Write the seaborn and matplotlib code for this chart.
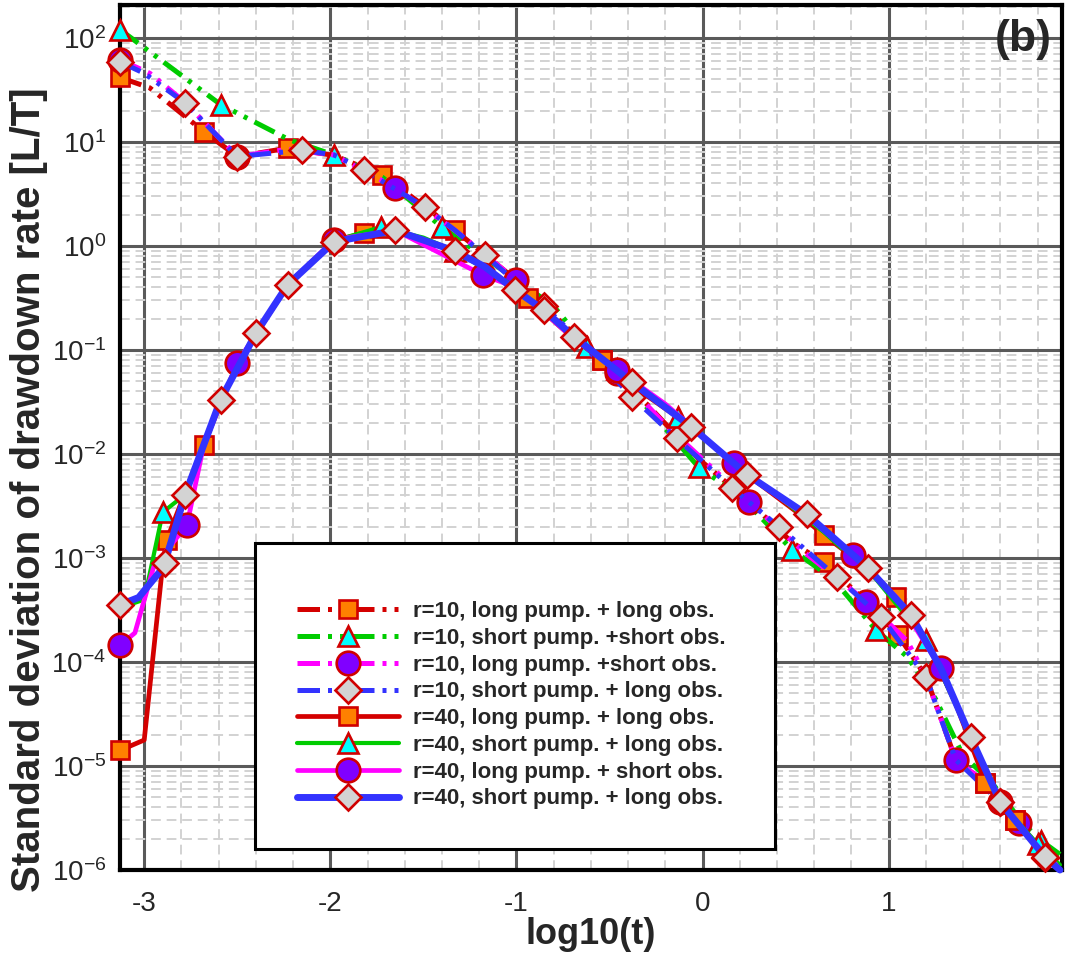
import numpy as np
import matplotlib
matplotlib.use("Agg")
import matplotlib.pyplot as plt
import matplotlib.ticker as mticker
from matplotlib.patches import Rectangle
import seaborn as sns

# ---- data: x = log10(t), y = log10(std of drawdown rate) ----
labels = [
    "r=10, long pump. + long obs.",
    "r=10, short pump. +short obs.",
    "r=10, long pump. +short obs.",
    "r=10, short pump. + long obs.",
    "r=40, long pump. + long obs.",
    "r=40, short pump. + long obs.",
    "r=40, long pump. + short obs.",
    "r=40, short pump. + long obs.",
]

x1 = [-3.13, -2.97, -2.68, -2.50, -2.23, -1.98, -1.72, -1.47, -1.33, -1.00, -0.54, -0.30, -0.02, 0.25, 0.48, 0.65, 0.88, 1.05, 1.20, 1.36, 1.52, 1.68, 1.86]
y1 = [1.62, 1.52, 1.10, 0.86, 0.94, 0.87, 0.68, 0.35, 0.15, -0.33, -1.10, -1.52, -2.05, -2.46, -2.85, -3.04, -3.42, -3.74, -4.14, -4.94, -5.16, -5.52, -5.92]
m1 = [0, 2, 4, 6, 8, 10, 15, 17, 20, 21]

x2 = [-3.13, -2.59, -2.22, -1.98, -1.72, -1.40, -1.10, -0.80, -0.62, -0.30, -0.02, 0.20, 0.48, 0.70, 0.93, 1.10, 1.25, 1.40, 1.55, 1.72, 1.82, 1.92]
y2 = [2.08, 1.36, 1.02, 0.875, 0.66, 0.18, -0.20, -0.58, -0.97, -1.55, -2.13, -2.40, -2.92, -3.20, -3.69, -3.95, -4.35, -4.90, -5.15, -5.55, -5.72, -5.85]
m2 = [0, 1, 3, 5, 8, 10, 12, 14, 20]

x3 = [-3.13, -2.97, -2.78, -2.50, -2.23, -1.98, -1.65, -1.33, -1.00, -0.70, -0.46, -0.20, 0.00, 0.25, 0.55, 0.88, 1.10, 1.20, 1.36, 1.52, 1.70, 1.86]
y3 = [1.79, 1.66, 1.38, 0.86, 0.93, 0.875, 0.56, 0.15, -0.33, -0.86, -1.22, -1.72, -2.05, -2.46, -2.95, -3.42, -3.80, -4.14, -4.94, -5.16, -5.55, -5.90]
m3 = [0, 3, 6, 8, 10, 13, 15, 18, 20]

x4 = [-3.13, -3.00, -2.78, -2.50, -2.15, -1.98, -1.82, -1.49, -1.33, -1.17, -0.85, -0.69, -0.38, -0.14, 0.16, 0.41, 0.72, 0.96, 1.20, 1.36, 1.60, 1.84, 1.92]
y4 = [1.77, 1.66, 1.375, 0.86, 0.92, 0.875, 0.73, 0.37, 0.15, -0.09, -0.58, -0.86, -1.45, -1.85, -2.33, -2.70, -3.18, -3.57, -4.14, -4.94, -5.35, -5.88, -6.0]
m4 = [0, 2, 3, 4, 6, 7, 9, 10, 12, 13, 14, 15, 16, 17, 18, 20, 21]

x5 = [-3.13, -3.00, -2.90, -2.88, -2.68, -2.50, -2.23, -1.98, -1.82, -1.65, -1.33, -1.17, -0.94, -0.70, -0.54, -0.30, -0.06, 0.24, 0.50, 0.65, 0.89, 1.04, 1.20, 1.36, 1.52, 1.68, 1.86]
y5 = [-4.85, -4.75, -3.05, -2.83, -1.91, -1.13, -0.38, 0.05, 0.125, 0.15, -0.05, -0.20, -0.50, -0.88, -1.10, -1.44, -1.74, -2.20, -2.55, -2.78, -3.10, -3.375, -3.79, -4.40, -5.16, -5.52, -5.90]
m5 = [0, 3, 4, 8, 12, 14, 19, 21, 24, 25]

x6 = [-3.13, -3.00, -2.90, -2.78, -2.59, -2.40, -2.23, -1.98, -1.73, -1.50, -1.33, -1.00, -0.62, -0.46, -0.13, 0.17, 0.40, 0.65, 0.93, 1.20, 1.44, 1.60, 1.80, 1.92]
y6 = [-3.48, -3.40, -2.56, -2.39, -1.48, -0.84, -0.375, 0.05, 0.18, 0.08, -0.05, -0.40, -0.97, -1.18, -1.64, -2.09, -2.40, -2.75, -3.20, -3.79, -4.72, -5.35, -5.75, -5.95]
m6 = [2, 8, 10, 13, 14, 19, 22]

x7 = [-3.13, -3.05, -2.95, -2.77, -2.68, -2.50, -2.23, -1.98, -1.65, -1.18, -1.00, -0.70, -0.46, -0.20, 0.17, 0.40, 0.56, 0.81, 1.04, 1.28, 1.44, 1.60, 1.76, 1.90]
y7 = [-3.84, -3.72, -3.09, -2.68, -1.91, -1.125, -0.375, 0.06, 0.15, -0.28, -0.40, -0.88, -1.19, -1.52, -2.09, -2.40, -2.60, -2.97, -3.375, -4.06, -4.72, -5.35, -5.70, -5.95]
m7 = [0, 3, 5, 7, 9, 12, 14, 17, 19, 21]

x8 = [-3.13, -3.03, -2.92, -2.89, -2.78, -2.59, -2.40, -2.23, -1.98, -1.65, -1.33, -1.17, -1.01, -0.85, -0.69, -0.38, -0.06, 0.24, 0.56, 0.89, 1.12, 1.28, 1.44, 1.60, 1.76, 1.84, 1.92]
y8 = [-3.45, -3.38, -3.14, -3.05, -2.39, -1.48, -0.84, -0.375, 0.04, 0.15, -0.05, -0.20, -0.42, -0.62, -0.875, -1.31, -1.74, -2.20, -2.58, -3.10, -3.55, -4.06, -4.72, -5.35, -5.70, -5.875, -6.0]
m8 = [0, 3, 4, 5, 6, 7, 8, 9, 10, 12, 13, 14, 15, 16, 17, 18, 19, 20, 22, 23, 25]

xs = [x1, x2, x3, x4, x5, x6, x7, x8]
ys = [y1, y2, y3, y4, y5, y6, y7, y8]
marks = [m1, m2, m3, m4, m5, m6, m7, m8]

# ---- styles ----
line_colors = ["#d40000", "#00cc00", "#ff00ff", "#3333ff"] * 2
markers = ["s", "^", "o", "D"] * 2
face_colors = ["#ff8000", "#00ffff", "#8000ff", "#d3d3d3"] * 2
marker_sizes = [13, 15, 17, 13] * 2
dashdotdot = (0, (4.5, 1.6, 0.8, 1.6, 0.8, 1.6))
line_styles = [dashdotdot] * 4 + ["-"] * 4
line_widths = [3.6, 3.6, 3.6, 3.6, 3.4, 3.0, 3.4, 5.0]
EDGE = "#d00000"

sns.set_theme(style="white")
plt.rcParams["font.family"] = ["Liberation Sans", "DejaVu Sans"]
plt.rcParams["axes.unicode_minus"] = False

fig, ax = plt.subplots(figsize=(10.65, 9.55), dpi=100)
fig.subplots_adjust(left=0.1127, right=0.997, top=0.9948, bottom=0.089)
ax.set_yscale("log")

for i in range(8):
    sns.lineplot(x=xs[i], y=10.0 ** np.array(ys[i]), ax=ax, estimator=None, sort=False,
                 color=line_colors[i], linestyle=line_styles[i], linewidth=line_widths[i],
                 marker=markers[i], markersize=marker_sizes[i], markevery=marks[i],
                 markerfacecolor=face_colors[i], markeredgecolor=EDGE, markeredgewidth=1.9,
                 label=labels[i], clip_on=False, zorder=3 + i * 0.1)

ax.set_xlim(-3.13, 1.93)
ax.set_ylim(1e-6, 10 ** 2.317)

ax.xaxis.set_major_locator(mticker.MultipleLocator(1))
ax.xaxis.set_minor_locator(mticker.MultipleLocator(0.2))
ax.yaxis.set_major_locator(mticker.LogLocator(base=10, numticks=20))
ax.yaxis.set_minor_locator(mticker.LogLocator(base=10, subs=np.arange(2, 10), numticks=20))
ax.yaxis.set_minor_formatter(mticker.NullFormatter())

ax.set_axisbelow(True)
ax.grid(which="major", color="#5a5a5a", linewidth=2.2, linestyle="-")
ax.grid(which="minor", color="#d2d2d2", linewidth=1.4, linestyle=(0, (5, 3)))

for sp in ax.spines.values():
    sp.set_color("black")
    sp.set_linewidth(3)

ax.tick_params(which="major", direction="in", length=14, width=3, color="black",
               labelsize=20, pad=10, top=False, right=False)
ax.tick_params(which="minor", direction="in", length=9, width=2, color="black",
               top=False, right=False)
ax.tick_params(axis="y", which="major", length=16)
ax.tick_params(axis="x", which="major", pad=15)

ax.set_xlabel("log10(t)", fontsize=26, fontweight="bold", labelpad=0)
ax.set_ylabel("Standard deviation of drawdown rate [L/T]", fontsize=29,
              fontweight="bold")
ax.yaxis.set_label_coords(-0.076, 0.44)

# legend box with blank space above and below the entries
ax.add_patch(Rectangle((0.143, 0.024), 0.552, 0.354, transform=ax.transAxes,
                       facecolor="white", edgecolor="black", linewidth=2.2, zorder=10))
handles, _ = ax.get_legend_handles_labels()
leg = ax.legend(handles, labels, loc="upper left", bbox_to_anchor=(0.188, 0.311),
                frameon=False, handlelength=4.6, handletextpad=0.6, labelspacing=0.26,
                borderpad=0, borderaxespad=0, numpoints=1,
                prop={"size": 16, "weight": "bold"})
leg.set_zorder(11)

fig.text(1023 / 1065, 1 - 40 / 955, "(b)", ha="center", va="center",
         fontsize=32, fontweight="bold")

fig.savefig("out.png", dpi=100)
